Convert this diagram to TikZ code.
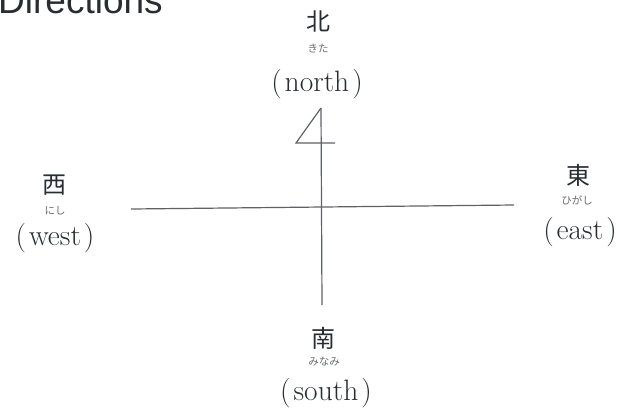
\documentclass[tikz,border=0pt]{standalone}
\usepackage{fontspec}
\usepackage{tikz}
\usetikzlibrary{positioning}
\newfontfamily\jpfont{Noto Sans CJK JP}
\setsansfont{Liberation Sans}
\definecolor{inkgray}{RGB}{40,45,50}

\begin{document}
\begin{tikzpicture}[x=1pt, y=-1pt,
    kanji/.style={font=\jpfont\fontsize{24}{24}\selectfont, text=inkgray, inner sep=0pt},
    kana/.style={font=\jpfont\fontsize{10.5}{10.5}\selectfont, text=inkgray!70, inner sep=0pt},
    eng/.style={font=\fontsize{29.5}{29.5}\selectfont, text=inkgray, inner sep=0pt},
    axis/.style={line width=1.2pt, draw=inkgray!75}]
    \useasboundingbox (0,0) rectangle (626,416);
    \node[anchor=base west, inner sep=0pt, text=inkgray,
          font=\sffamily\fontsize{37}{37}\selectfont] (title) at (-2,13) {Directions};

    % north
    \node[kanji] (kita) at (318,21) {北};
    \node[kana] (kitaruby) at (318,49) {きた};
    \node[eng] (north) at (317,84) {(\kern3pt north\kern3pt)};
    % west
    \node[kanji] (nishi) at (54,185) {西};
    \node[kana] (nishiruby) at (55,211) {にし};
    \node[eng] (west) at (55,238) {(\kern3pt west\kern3pt)};
    % east
    \node[kanji] (higashi) at (578,175) {東};
    \node[kana] (higashiruby) at (577,200) {ひがし};
    \node[eng] (east) at (580,232) {(\kern3pt east\kern3pt)};
    % south
    \node[kanji] (minami) at (323,338) {南};
    \node[kana] (minamiruby) at (324,362) {みなみ};
    \node[eng] (south) at (326,393) {(\kern3pt south\kern3pt)};

    \coordinate (top) at (321,108);
    \coordinate (bottom) at (322,305);
    \coordinate (westend) at (131,209);
    \coordinate (eastend) at (514,205);
    \coordinate (fourfoot) at (296,143);
    \coordinate (fourbar) at (335,143);
    \draw[axis] (westend) -- (eastend);
    \draw[axis] (top) -- (bottom);
    \draw[axis] (top) -- (fourfoot) -- (fourbar);
\end{tikzpicture}
\end{document}
